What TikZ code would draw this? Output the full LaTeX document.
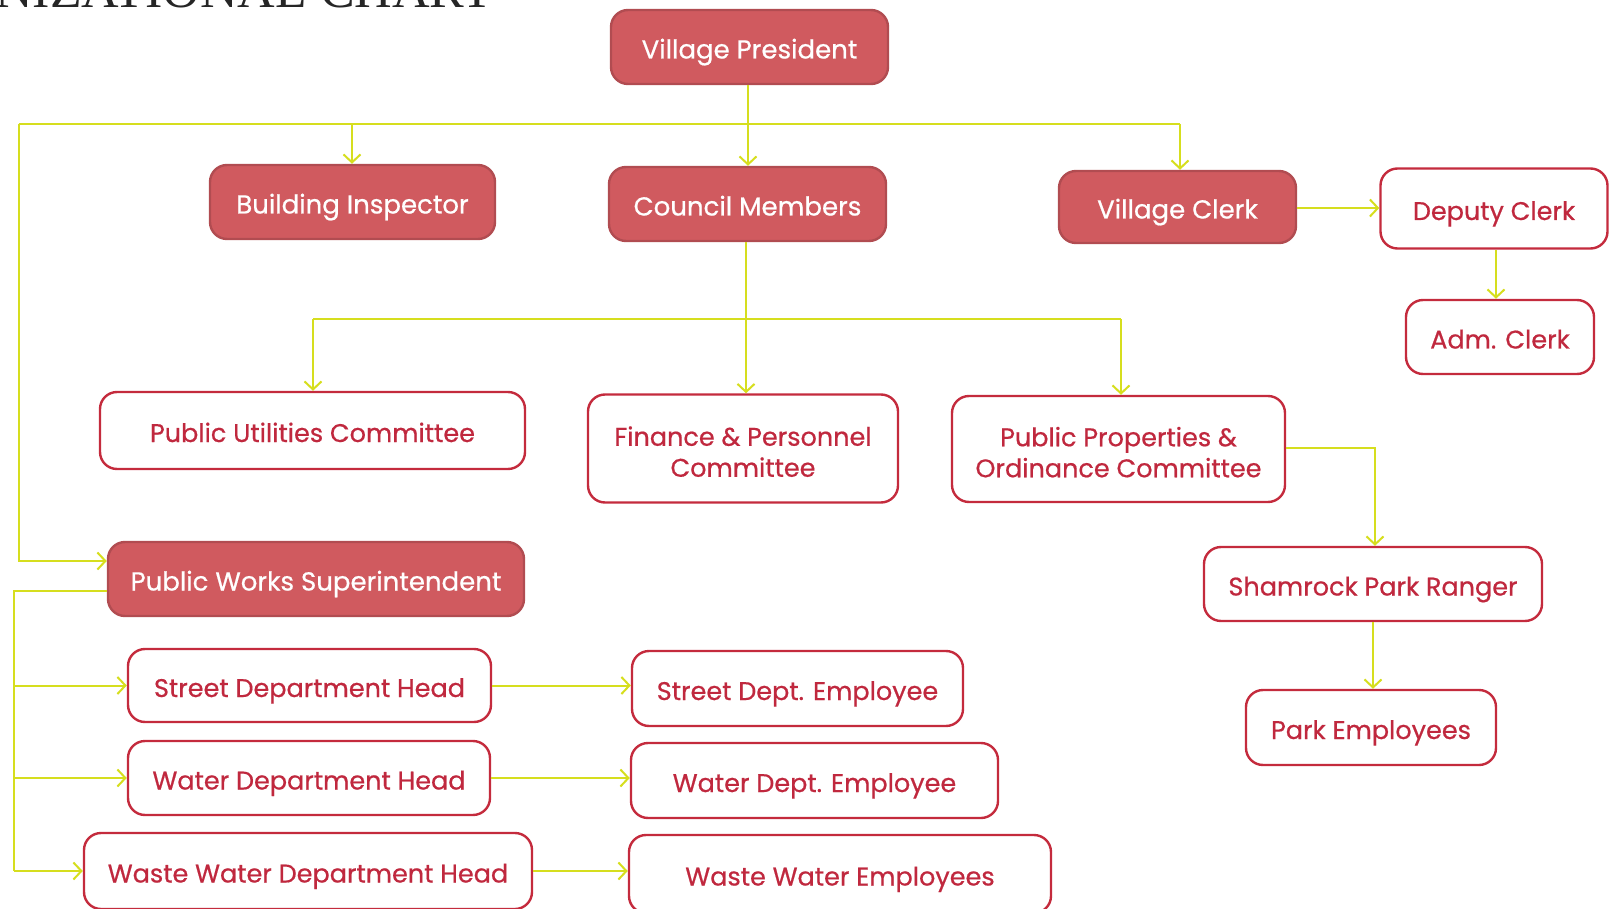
\documentclass[tikz,border=0pt]{standalone}
\usepackage{fontspec}
\setmainfont{Poppins}[FakeBold=0.6]
\newfontfamily\titlefont{Liberation Serif}
\usetikzlibrary{arrows.meta}
\definecolor{fillred}{HTML}{D05A5F}
\definecolor{edgered}{HTML}{C42B3D}
\definecolor{textred}{HTML}{C0283E}
\definecolor{lineyel}{HTML}{D6DE1E}
\tikzset{
  orgbox/.style={rounded corners=17pt, line width=2.4pt, draw=edgered, align=center,
    inner sep=0pt, font=\fontsize{25.5}{31}\selectfont, text height=23pt, text depth=0pt},
  twoline/.style={text height=56.5pt, text depth=0pt},
  filledbox/.style={orgbox, fill=fillred, draw=fillred!85!black, text=white,
    font=\fontsize{26}{31}\selectfont},
  plainbox/.style={orgbox, fill=white, text=textred},
  conn/.style={draw=lineyel, line width=2pt, -{Straight Barb[length=8pt,width=17pt,line width=2pt]}},
  plainline/.style={draw=lineyel, line width=2pt},
}
\begin{document}
\begin{tikzpicture}[x=1pt,y=-1pt]
\useasboundingbox (0,0) rectangle (1609,909);
\clip (0,0) rectangle (1609,909);
\node[anchor=base west, inner sep=0pt, font=\titlefont\fontsize{52}{52}\selectfont, text=black!85] (title) at (-5,8) {NIZATIONAL CHART};

\node[filledbox, minimum width=277pt, minimum height=74pt] (vp) at (749.5,47) {Village President};
\node[filledbox, minimum width=285pt, minimum height=74pt] (bi) at (352.5,202) {Building Inspector};
\node[filledbox, minimum width=277pt, minimum height=74pt] (cm) at (747.5,204) {Council Members};
\node[filledbox, minimum width=237pt, minimum height=72pt] (vc) at (1177.5,207) {Village Clerk};
\node[plainbox, minimum width=227pt, minimum height=80pt] (dc) at (1494,208.5) {Deputy Clerk};
\node[plainbox, minimum width=188pt, minimum height=74pt] (ac) at (1500,337) {Adm. Clerk};
\node[plainbox, minimum width=425pt, minimum height=77pt] (puc) at (312.5,430.5) {Public Utilities Committee};
\node[plainbox, twoline, minimum width=310pt, minimum height=108pt] (fpc) at (743,448.5) {Finance \& Personnel\\Committee};
\node[plainbox, twoline, minimum width=333pt, minimum height=106pt] (ppoc) at (1118.5,449) {Public Properties \&\\Ordinance Committee};
\node[filledbox, minimum width=416pt, minimum height=74pt] (pws) at (316,579) {Public Works Superintendent};
\node[plainbox, minimum width=338pt, minimum height=74pt] (spr) at (1373,584) {Shamrock Park Ranger};
\node[plainbox, minimum width=250pt, minimum height=75pt] (pe) at (1371,727.5) {Park Employees};
\node[plainbox, minimum width=363pt, minimum height=73pt] (sdh) at (309.5,685.5) {Street Department Head};
\node[plainbox, minimum width=331pt, minimum height=75pt] (sde) at (797.5,688.5) {Street Dept. Employee};
\node[plainbox, minimum width=362pt, minimum height=74pt] (wdh) at (309,778) {Water Department Head};
\node[plainbox, minimum width=367pt, minimum height=75pt] (wde) at (814.5,780.5) {Water Dept. Employee};
\node[plainbox, minimum width=448pt, minimum height=76pt] (wwdh) at (308,871) {Waste Water Department Head};
\node[plainbox, minimum width=422pt, minimum height=78pt] (wwe) at (840,874) {Waste Water Employees};

% top tree
\coordinate (j1) at (748,124);
\coordinate (jl) at (18.5,124);
\coordinate (jr) at (1180,124);
\draw[plainline] (vp.south -| j1) -- (j1);
\draw[plainline] (jl) -- (jr);
\draw[conn] (352,124) -- (352,124 |- bi.north);
\draw[conn] (j1) -- (j1 |- cm.north);
\draw[conn] (jr) -- (jr |- vc.north);
\draw[conn] (jl) -- (18.5,561) -- (pws.west |- 0,561);
\draw[conn] (vc.east |- 0,208) -- (dc.west |- 0,208);
\draw[conn] (1496,0 |- dc.south) -- (1496,0 |- ac.north);

% council tree
\coordinate (j2) at (746,319);
\coordinate (j2l) at (313,319);
\coordinate (j2r) at (1121,319);
\draw[plainline] (746,0 |- cm.south) -- (j2);
\draw[plainline] (j2l) -- (j2r);
\draw[conn] (j2l) -- (j2l |- puc.north);
\draw[conn] (j2) -- (j2 |- fpc.north);
\draw[conn] (j2r) -- (j2r |- ppoc.north);
\draw[conn] (ppoc.east |- 0,448) -- (1375,448) -- (1375,0 |- spr.north);
\draw[conn] (1373,0 |- spr.south) -- (1373,0 |- pe.north);

% public works tree
\coordinate (k0) at (13.5,591);
\coordinate (k3) at (13.5,871);
\draw[plainline] (pws.west |- k0) -- (k0) -- (k3);
\draw[conn] (13.5,685.5) -- (sdh.west);
\draw[conn] (13.5,778) -- (wdh.west);
\draw[conn] (k3) -- (wwdh.west);
\draw[conn] (sdh.east) -- (sde.west |- sdh.east);
\draw[conn] (wdh.east) -- (wde.west |- wdh.east);
\draw[conn] (wwdh.east) -- (wwe.west |- wwdh.east);
\end{tikzpicture}
\end{document}
